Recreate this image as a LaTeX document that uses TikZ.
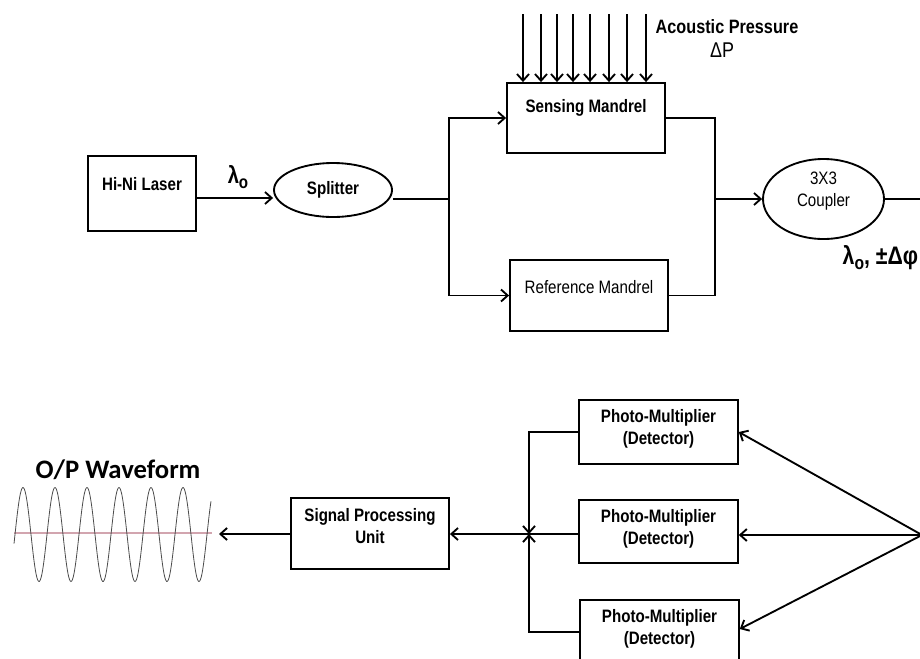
\documentclass[tikz,border=0pt]{standalone}
\usepackage{fontspec}
\setmainfont{Liberation Sans}[FakeStretch=0.84]
\newfontfamily\calfont{Carlito}
\usetikzlibrary{shapes.geometric, arrows.meta}
\definecolor{waveline}{RGB}{210,165,175}
\tikzstyle{process} = [rectangle, draw=black, line width=1.4pt, inner sep=0pt]
\tikzstyle{oval} = [ellipse, draw=black, line width=1.4pt, inner sep=0pt]
\tikzstyle{arrow} = [line width=1.4pt, ->, >={Straight Barb[length=5pt, width=9pt]}]
\tikzstyle{line} = [line width=1.4pt]
\tikzstyle{boldtxt} = [font=\bfseries\fontsize{13.5}{16}\selectfont, align=center]
\tikzstyle{plaintxt} = [font=\fontsize{13.5}{16}\selectfont, align=center]

\begin{document}
\begin{tikzpicture}[x=0.75pt, y=-0.75pt]
\clip (0,0) rectangle (920,658);
% top row
\node (laser) [process, minimum width=81pt, minimum height=56pt, label={[boldtxt, yshift=7pt]center:Hi-Ni Laser}] at (142,193.5) {};
\node (splitter) [oval, minimum width=88.5pt, minimum height=40.5pt, boldtxt] at (333,190) {Splitter};
\node (sensing) [process, minimum width=118.5pt, minimum height=52.5pt, label={[boldtxt, yshift=7.5pt]center:Sensing Mandrel}] at (586,118) {};
\node (reference) [process, minimum width=118.5pt, minimum height=53pt, label={[plaintxt, yshift=6pt]center:Reference Mandrel}] at (589,295.5) {};
\node (coupler) [oval, minimum width=90.75pt, minimum height=60pt, label={[plaintxt, yshift=6pt]center:3X3\\Coupler}] at (823.5,199) {};
\node (pressure) [font=\bfseries\fontsize{14.5}{17}\selectfont] at (727,27) {Acoustic Pressure};
\node (deltap) [font=\fontsize{16}{18}\selectfont] at (722,50) {ΔP};
\node (lambdain) [font=\bfseries\fontsize{18}{20}\selectfont] at (238,177) {λ\raisebox{-0.35ex}{\fontsize{13.5}{15}\selectfont o}};
\node (lambdaout) [anchor=west, font=\bfseries\fontsize{19}{21}\selectfont] at (838,258) {λ\raisebox{-0.35ex}{\fontsize{14}{16}\selectfont o}, ±Δφ};
\coordinate (split) at (449,199);
\coordinate (join) at (715,199);
\coordinate (out) at (930,199);

\draw [arrow] (laser.east |- 0,198) -- (splitter.west |- 0,198);
\draw [line] (splitter.east |- split) -- (split);
\draw [arrow] (split) |- (sensing.west);
\draw [arrow] (split) |- (reference.west);
\draw [line] (sensing.east) -| (join);
\draw [line] (reference.east) -| (join);
\draw [arrow] (join) -- (coupler.west);
\draw [line] (coupler.east) -- (out);
\foreach \x in {523,541,557,573,590,609,627,646}
  \draw [arrow] (\x,14) -- (sensing.north -| \x,0);

% bottom row
\node (det1) [process, minimum width=119pt, minimum height=48pt, label={[boldtxt, yshift=2.5pt]center:Photo-Multiplier\\(Detector)}] at (658.5,432) {};
\node (det2) [process, minimum width=119pt, minimum height=47pt, label={[boldtxt, yshift=2pt]center:Photo-Multiplier\\(Detector)}] at (658.5,531.5) {};
\node (det3) [process, minimum width=119pt, minimum height=48pt, label={[boldtxt, yshift=2.5pt]center:Photo-Multiplier\\(Detector)}] at (659.5,632) {};
\node (spu) [process, minimum width=118.5pt, minimum height=53pt, label={[boldtxt, yshift=5.5pt]center:Signal Processing\\Unit}] at (370,533.5) {};
\node (optitle) [font=\calfont\bfseries\fontsize{20}{24}\selectfont] at (118,470) {O/P Waveform};
\coordinate (src) at (922,535);
\coordinate (comb) at (529,534);
\coordinate (wave) at (219,534);

\draw [arrow] (src) -- (det1.east);
\draw [arrow] (src) -- (det2.east |- src);
\draw [arrow] (src) -- (det3.east |- 0,629);
\draw [arrow] (det1.west) -| (comb);
\draw [arrow] (det3.west) -| (comb);
\draw [arrow] (det2.west |- comb) -- (spu.east |- comb);
\draw [arrow] (spu.west |- comb) -- (wave);

% output waveform
\draw [waveline, line width=0.8pt] (14,533) -- (212,533);
\draw [black!70, line width=0.6pt] plot [domain=14:211, samples=250, smooth] (\x, {534.5-47*sin(11.25*(\x-15))});
\end{tikzpicture}
\end{document}
